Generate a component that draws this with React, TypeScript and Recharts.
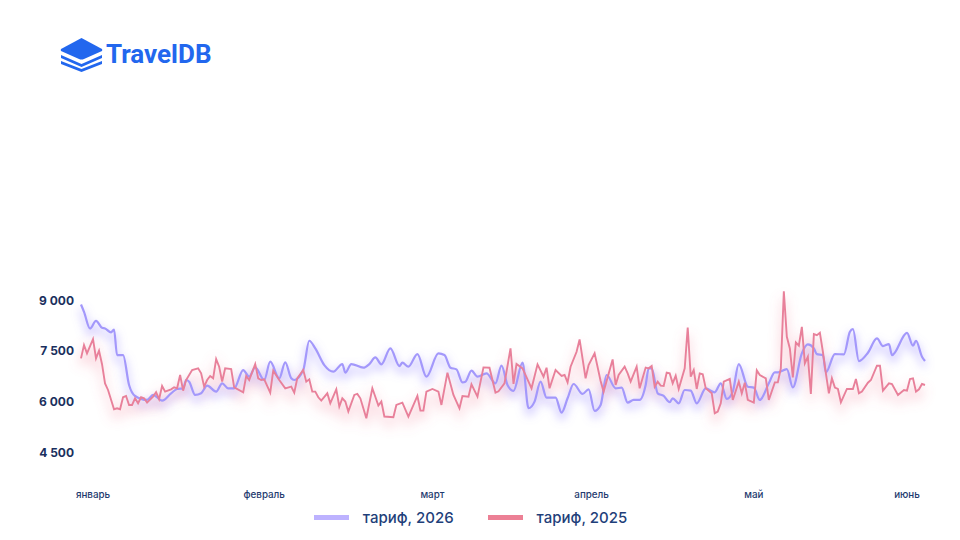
import React from 'react';
import { LineChart, Line, XAxis, YAxis, Legend } from 'recharts';

const monthLabels = ['январь', 'февраль', 'март', 'апрель', 'май', 'июнь'];
const monthTicks = [4, 61, 117, 170, 224, 275];
const priceTicks = [4500, 6000, 7500, 9000];

const samples2026 = [
  0, 1, 3, 5, 7, 8, 10, 11, 12, 14, 16, 18, 22, 24, 27, 30, 32, 34, 35, 36, 38, 40, 42, 45, 47, 49, 51, 54, 56, 58,
  61, 63, 66, 68, 70, 71, 74, 76, 78, 81, 84, 87, 88, 90, 94, 96, 98, 100, 103, 106, 107, 109, 112, 115, 119, 121,
  123, 125, 127, 128, 130, 132, 135, 138, 140, 142, 144, 147, 149, 151, 153, 155, 158, 160, 162, 164, 167, 169, 171,
  173, 175, 178, 180, 182, 184, 186, 188, 189, 190, 192, 194, 196, 197, 199, 201, 203, 205, 208, 211, 213, 215, 217,
  219, 222, 224, 226, 229, 231, 232, 235, 237, 240, 242, 244, 245, 247, 248, 251, 254, 256, 257, 259, 262, 265, 267,
  269, 270, 275, 277, 278, 280, 281,
];
const tariff2026 = [
  8872, 8654, 8161, 8388, 8181, 8161, 8043, 8131, 7371, 7371, 6483, 6157, 6039, 6187, 6019, 6236, 6365, 6384, 6631,
  6582, 6187, 6236, 6463, 6286, 6532, 6384, 6384, 6927, 6730, 7006, 6631, 7174, 6680, 7154, 6680, 6631, 6927, 7796,
  7569, 7075, 6878, 7105, 6848, 7105, 6997, 7105, 7302, 7095, 7569, 7046, 7145, 7026, 7401, 6730, 7421, 7372, 6997,
  6947, 6562, 6582, 6908, 6730, 6829, 6533, 7056, 6483, 6306, 7145, 5792, 5990, 6582, 6108, 6108, 5664, 6088, 6513,
  6217, 6355, 5714, 5891, 6779, 6385, 6404, 5960, 6040, 6039, 6483, 6977, 6977, 6236, 6157, 5970, 6088, 5940, 6335,
  6315, 5940, 6384, 6266, 6532, 6069, 6286, 7105, 6433, 6404, 6039, 6532, 6858, 6858, 6957, 6414, 7421, 7687, 7569,
  7400, 7371, 6858, 7400, 7391, 8062, 8141, 7194, 7440, 7865, 7638, 7697, 7371, 8033, 7648, 7796, 7322, 7194,
];

const samples2025 = [
  0, 1, 2, 4, 5, 6, 7, 8, 9, 11, 12, 13, 14, 15, 16, 17, 18, 19, 20, 21, 22, 24, 25, 26, 27, 28, 30, 31, 32, 33, 34,
  35, 37, 39, 40, 41, 42, 43, 44, 45, 46, 47, 48, 50, 51, 54, 55, 56, 58, 59, 60, 61, 63, 64, 66, 68, 70, 71, 72, 74,
  75, 76, 77, 78, 79, 80, 82, 83, 85, 86, 87, 88, 89, 91, 92, 93, 95, 97, 99, 100, 101, 104, 105, 107, 109, 112, 113,
  114, 115, 117, 119, 120, 122, 124, 126, 127, 129, 130, 132, 134, 136, 138, 139, 141, 143, 144, 145, 147, 150, 152,
  154, 155, 156, 158, 160, 161, 162, 163, 165, 166, 168, 169, 171, 173, 174, 177, 178, 179, 181, 182, 183, 185, 186,
  188, 189, 190, 191, 192, 193, 194, 195, 196, 197, 198, 199, 201, 202, 203, 204, 205, 206, 207, 208, 210, 211, 212,
  213, 214, 216, 217, 219, 220, 221, 222, 224, 225, 226, 228, 229, 231, 232, 233, 234, 235, 236, 237, 238, 239, 240,
  241, 242, 243, 244, 245, 246, 247, 248, 249, 250, 251, 252, 253, 255, 257, 258, 259, 260, 262, 263, 265, 266, 267,
  269, 270, 272, 274, 275, 276, 277, 278, 279, 280, 281,
];
const tariff2025 = [
  7273, 7667, 7421, 7845, 7273, 7500, 7100, 6530, 6335, 5763, 5790, 5763, 6118, 6157, 5891, 5891, 6088, 5940, 6118,
  6088, 5960, 6137, 6266, 6060, 6453, 6285, 6355, 6414, 6384, 6779, 6315, 6631, 6927, 6977, 6829, 6434, 6631, 6750,
  6680, 7253, 7026, 6582, 6977, 6957, 6414, 6266, 6750, 6631, 7105, 6680, 6631, 6651, 6256, 6908, 6631, 6384, 6434,
  6256, 6680, 6927, 6582, 6651, 6286, 6286, 6118, 6019, 6236, 5940, 6355, 5842, 6088, 5990, 5694, 6187, 6217, 6088,
  5496, 6385, 5871, 5990, 5546, 5526, 5891, 5960, 5546, 6158, 5723, 5723, 6286, 6365, 6286, 5891, 6849, 6187, 5792,
  6158, 6138, 6503, 6138, 7006, 6997, 6256, 6296, 6533, 7569, 6513, 7105, 6977, 6385, 7095, 6730, 6997, 6385, 6927,
  6750, 6780, 6562, 7026, 7470, 7836, 6681, 7076, 7421, 6602, 6286, 7243, 6483, 6780, 7026, 6829, 6582, 7026, 6385,
  7000, 6977, 7046, 6434, 6582, 6463, 6453, 6848, 6828, 6532, 6759, 6365, 6977, 8190, 6730, 6927, 6365, 6828, 6799,
  6384, 6236, 5644, 5693, 5940, 6582, 6661, 6039, 6582, 6236, 6552, 6039, 5960, 6917, 6779, 6680, 6039, 6562, 6562,
  6977, 9266, 7914, 7569, 6710, 7746, 7648, 8210, 7125, 7322, 6217, 7993, 7963, 8033, 7470, 6828, 6236, 6680, 6404,
  6365, 5970, 6365, 6365, 6661, 6236, 6286, 6552, 6631, 7055, 7055, 6315, 6532, 6512, 6187, 6335, 6315, 6661, 6680,
  6286, 6355, 6512, 6483,
];

const rows2026 = samples2026.map((sample, i) => ({ sample, price: tariff2026[i] }));
const rows2025 = samples2025.map((sample, i) => ({ sample, price: tariff2025[i] }));

const BLUE = '#a398fb';
const RED = '#e8809a';

function Logo() {
  return (
    <div style={{ position: 'absolute', left: 60, top: 36, display: 'flex', alignItems: 'center' }}>
      <svg width="43" height="36" viewBox="0 0 43 36">
        <path d="M21.5 2 L42 13 Q42.5 14 42 15 L24 23 Q21.5 24 19 23 L1 15 Q0.5 14 1 13 Z" fill="#2267ee" />
        <path d="M1 19 L21.5 28 L42 19 L42 22 L21.5 31 L1 22 Z" fill="#2267ee" />
        <path d="M1 25 L21.5 33 L42 25 L42 28 L21.5 36 L1 28 Z" fill="#2267ee" />
      </svg>
      <span style={{ marginLeft: 3, fontFamily: 'Roboto', fontWeight: 700, fontSize: 26, color: '#2267ee' }}>TravelDB</span>
    </div>
  );
}

function TariffLegend() {
  const items = [
    { label: 'тариф, 2026', color: '#bdb2ff' },
    { label: 'тариф, 2025', color: '#ec8095' },
  ];
  return (
    <div style={{ position: 'relative', top: 6, left: 8, display: 'flex', justifyContent: 'center', gap: 34 }}>
      {items.map((item) => (
        <div key={item.label} style={{ display: 'flex', alignItems: 'center', gap: 14 }}>
          <span style={{ width: 35, height: 5, background: item.color }} />
          <span style={{ fontFamily: 'Inter', fontWeight: 500, fontSize: 15, color: '#1f3f7a' }}>{item.label}</span>
        </div>
      ))}
    </div>
  );
}

export default function App() {
  return (
    <div style={{ position: 'absolute', left: 0, top: 0, width: 960, height: 540, background: '#fff' }}>
      <Logo />
      <LineChart width={960} height={540} margin={{ top: 280, right: 35, bottom: 8, left: 0 }}>
        <defs>
          <filter id="glowBlue" x="-5%" y="-40%" width="110%" height="180%">
            <feOffset dy="5" />
            <feGaussianBlur stdDeviation="5" />
          </filter>
          <filter id="glowRed" x="-5%" y="-40%" width="110%" height="180%">
            <feOffset dy="7" />
            <feGaussianBlur stdDeviation="6" />
          </filter>
        </defs>
        <XAxis
          dataKey="sample"
          type="number"
          domain={[0, 281]}
          ticks={monthTicks}
          interval={0}
          height={30}
          tickLine={false}
          axisLine={false}
          tickMargin={13}
          tickFormatter={(_v: number, i: number) => monthLabels[i]}
          tick={{ fontFamily: 'Inter', fontSize: 9.8, fontWeight: 500, fill: '#1e3a6e' }}
        />
        <YAxis
          type="number"
          domain={[3900, 9600]}
          ticks={priceTicks}
          width={81}
          tickLine={false}
          axisLine={false}
          tickSize={0}
          tickMargin={7}
          tickFormatter={(v: number) => String(v).replace(/(\d)(\d{3})$/, '$1 $2')}
          tick={{ fontFamily: 'Inter', fontSize: 12, fontWeight: 700, fill: '#1a2f5e', dy: 0.5 }}
        />
        <Legend height={30} content={<TariffLegend />} />
        <Line data={rows2026} dataKey="price" type="monotone" stroke="#8f80ff" strokeOpacity={0.4} strokeWidth={5} dot={false} legendType="none" filter="url(#glowBlue)" isAnimationActive={false} />
        <Line data={rows2025} dataKey="price" type="linear" stroke="#ef6c88" strokeOpacity={0.26} strokeWidth={5} dot={false} legendType="none" filter="url(#glowRed)" isAnimationActive={false} />
        <Line data={rows2026} dataKey="price" name="тариф, 2026" type="monotone" stroke={BLUE} strokeWidth={2.2} dot={false} isAnimationActive={false} />
        <Line data={rows2025} dataKey="price" name="тариф, 2025" type="linear" stroke={RED} strokeWidth={1.9} dot={false} isAnimationActive={false} />
      </LineChart>
    </div>
  );
}
